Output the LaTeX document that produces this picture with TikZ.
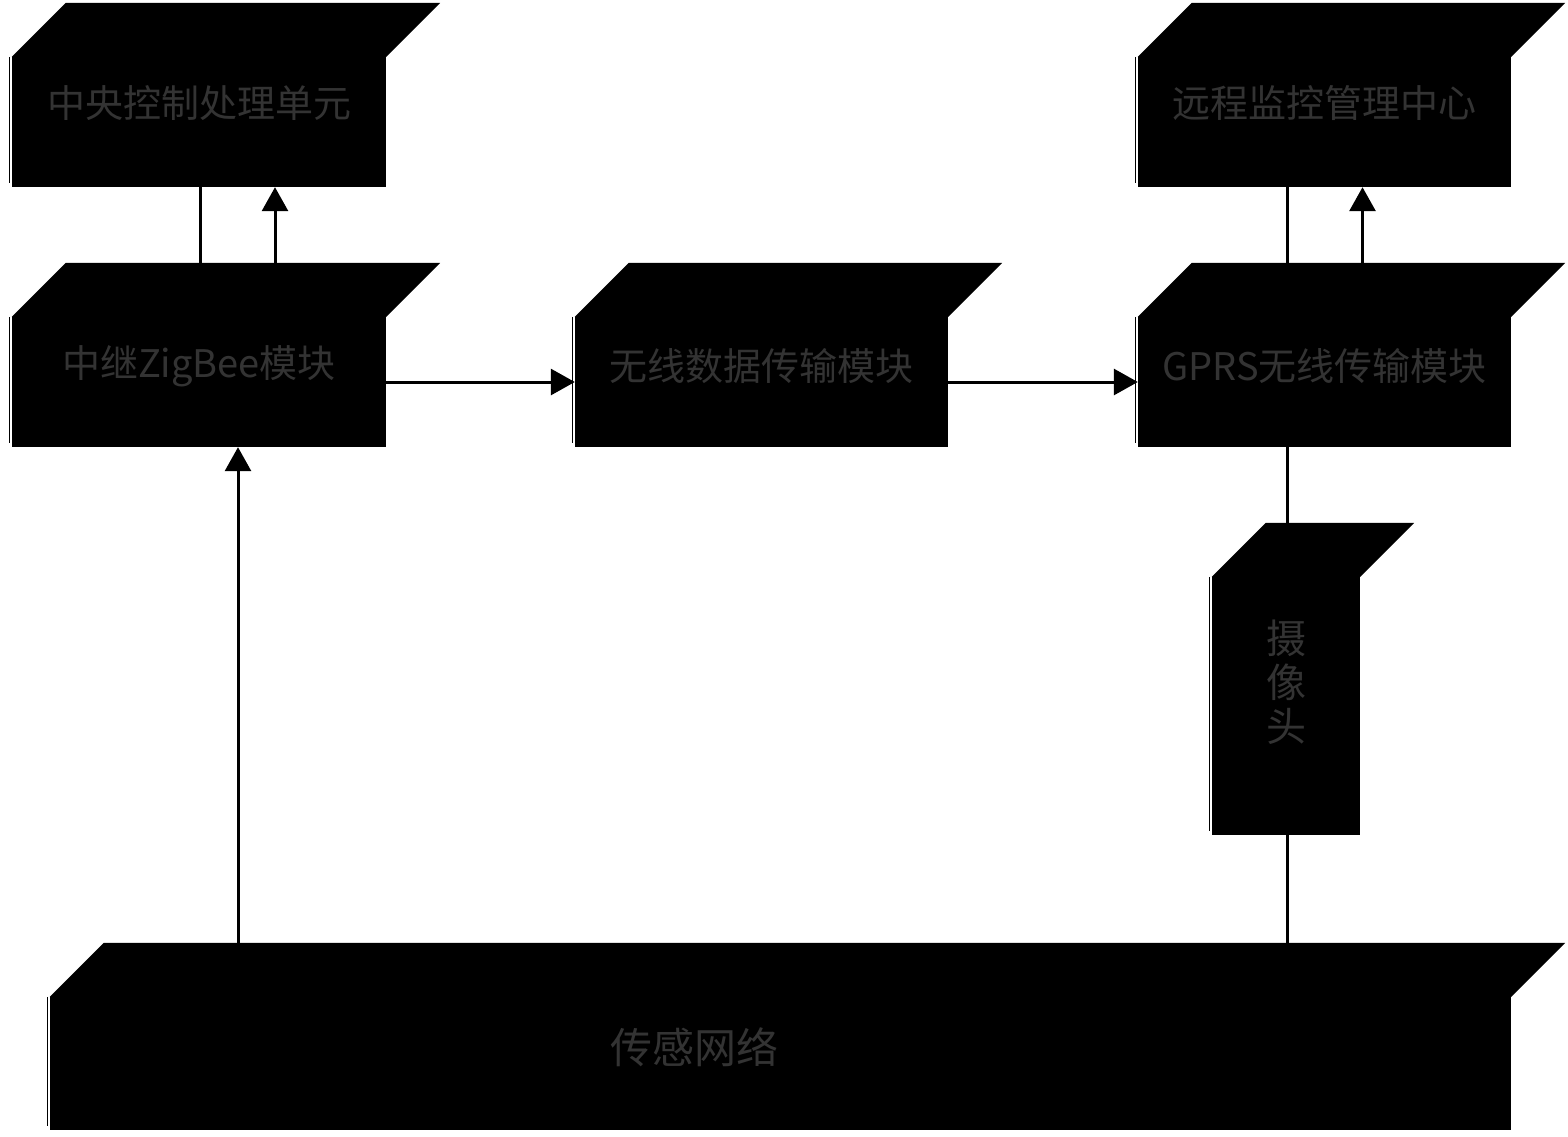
\documentclass[tikz,border=0pt]{standalone}
\usepackage{fontspec}
\newfontfamily\cjk{Noto Sans CJK SC}
\usetikzlibrary{arrows.meta}
\definecolor{txtgray}{gray}{0.2}
\tikzset{
  blk/.style={fill=black, draw=none, inner sep=0pt, minimum width=374pt, minimum height=130pt},
  txt/.style={text=txtgray, font=\cjk\fontsize{38}{46}\selectfont, inner sep=0pt},
  conn/.style={line width=3pt, draw=black},
  arr/.style={conn, -{Triangle[width=26pt,length=24pt]}}
}
\begin{document}
\begin{tikzpicture}[x=1pt,y=-1pt]
\useasboundingbox[fill=white] (0,0) rectangle (1568,1136);
% front faces
\node[blk, label={[txt,yshift=19pt]center:中央控制处理单元}] (A) at (199,122) {};
\node[blk, label={[txt,yshift=16pt]center:中继ZigBee模块}] (B) at (199,382) {};
\node[blk, minimum width=373pt, label={[txt,yshift=16pt]center:无线数据传输模块}] (C) at (761.5,382) {};
\node[blk, minimum width=373pt, label={[txt,yshift=16pt]center:GPRS无线传输模块}] (D) at (1324.5,382) {};
\node[blk, minimum width=373pt, label={[txt,yshift=19pt]center:远程监控管理中心}] (E) at (1324.5,122) {};
\node[blk, minimum width=148pt, minimum height=258pt, label={[txt,align=center,yshift=24pt,font=\cjk\fontsize{40}{44}\selectfont]center:摄\\像\\头}] (F) at (1286,706) {};
\node[blk, minimum width=1461pt, minimum height=133pt, label={[txt,yshift=16pt,xshift=-86pt,font=\cjk\fontsize{42}{48}\selectfont]center:传感网络}] (G) at (780.5,1063.5) {};
% top faces and thin left edge lines
\foreach \n in {A,B,C,D,E,F,G}{
  \fill (\n.north west) -- ++(54,-54) -- ([shift={(54,-54)}]\n.north east) -- (\n.north east) -- cycle;
  \draw[line width=1pt] ([xshift=-2pt]\n.north west) -- ([xshift=-2pt,yshift=4pt]\n.south west);
}
% top-face reference points
\coordinate (Btop) at ([yshift=54pt]B.north);
\coordinate (Dtop) at ([yshift=54pt]D.north);
\coordinate (Ftop) at ([yshift=54pt]F.north);
\coordinate (Gtop) at ([yshift=54pt]G.north);
% connectors
\draw[conn] ([xshift=1pt]A.south) -- ([xshift=1pt]A.south |- Btop);
\draw[arr] ([xshift=76pt]A.south |- Btop) -- ([xshift=76pt]A.south);
\draw[arr] (B.east) -- (C.west);
\draw[arr] (C.east) -- (D.west);
\draw[conn] ([xshift=-37pt]E.south) -- ([xshift=-37pt]E.south |- Dtop);
\draw[arr] ([xshift=38pt]E.south |- Dtop) -- ([xshift=38pt]E.south);
\draw[arr] ([xshift=39pt]B.south |- Gtop) -- ([xshift=39pt]B.south);
\draw[conn] ([xshift=1pt]F.south) -- ([xshift=1pt]F.south |- Gtop);
\draw[conn] ([xshift=1pt]Ftop) -- ([xshift=1pt]Ftop |- D.south);
\end{tikzpicture}
\end{document}
